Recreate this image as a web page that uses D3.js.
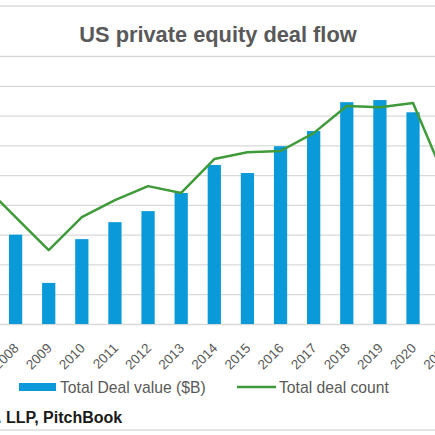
<!DOCTYPE html>
<html>
<head>
<meta charset="utf-8">
<script src="https://cdn.jsdelivr.net/npm/d3@7"></script>
<style>
  body { margin: 0; background: #fff; }
  svg { display: block; font-family: "Liberation Sans", Arial, sans-serif; }
</style>
</head>
<body>
<svg id="chart" width="435" height="435"></svg>
<script>
// Données (2007 et 2021 sont hors cadre, valeurs estimées)
const years = ["2007", "2008", "2009", "2010", "2011", "2012", "2013", "2014",
               "2015", "2016", "2017", "2018", "2019", "2020", "2021"];
const dealValue = [null, 300, 138, 285, 342, 379, 440, 534, 507, 597, 648, 745, 752, 711, null];
const dealCount = [4700, 3590, 2480, 3590, 4160, 4630, 4400, 5540, 5770, 5810, 6410, 7320, 7280, 7420, 4800];
const valueTicks = [0, 100, 200, 300, 400, 500, 600, 700, 800, 900];

const svg = d3.select("#chart");

// Échelles
const x = d3.scaleBand()
    .domain(years)
    .range([-34.1, 462.7])
    .paddingInner(0.6)
    .paddingOuter(0.3);

const y = d3.scaleLinear().domain([0, 900]).range([324, 56]);
const y2 = d3.scaleLinear().domain([0, 9000]).range([324, 56]);

// Lignes de séparation haut / bas
svg.append("line")
    .attr("x1", 0).attr("x2", 435).attr("y1", 6).attr("y2", 6)
    .attr("stroke", "#dcdcdc").attr("stroke-width", 1.5);
svg.append("line")
    .attr("x1", 0).attr("x2", 435).attr("y1", 430).attr("y2", 430)
    .attr("stroke", "#dcdcdc").attr("stroke-width", 1.5);

// Titre
svg.append("text")
    .attr("x", 218).attr("y", 42)
    .attr("text-anchor", "middle")
    .attr("font-size", "21.8px")
    .attr("font-weight", "bold")
    .attr("fill", "#595959")
    .text("US private equity deal flow");

// Quadrillage
const grid = svg.append("g")
    .call(d3.axisLeft(y).tickValues(valueTicks).tickSize(-470).tickFormat(""))
    .attr("transform", "translate(-10,0)");
grid.select(".domain").remove();
grid.selectAll(".tick line").attr("stroke", "#d9d9d9").attr("stroke-width", 1.3);

// Barres
svg.append("g").selectAll("rect")
    .data(years.map((d, i) => ({ year: d, value: dealValue[i] })).filter(d => d.value !== null))
    .enter()
    .append("rect")
    .attr("x", d => x(d.year))
    .attr("y", d => y(d.value))
    .attr("width", x.bandwidth())
    .attr("height", d => y(0) - y(d.value))
    .attr("fill", "#0a9ad9");

// Courbe du nombre de transactions
const line = d3.line()
    .x((d, i) => x(years[i]) + x.bandwidth() / 2)
    .y(d => y2(d));

svg.append("path")
    .datum(dealCount)
    .attr("d", line)
    .attr("fill", "none")
    .attr("stroke", "#3f9a3a")
    .attr("stroke-width", 2.5)
    .attr("stroke-linejoin", "round");

// Axe des années, étiquettes inclinées (2007 hors cadre, pas d'étiquette)
const xAxis = svg.append("g")
    .attr("transform", "translate(0,324)")
    .call(d3.axisBottom(x).tickSize(0).tickPadding(0)
        .tickFormat(d => d === "2007" ? "" : d));
xAxis.select(".domain").remove();
xAxis.selectAll("text")
    .attr("font-size", "13.5px")
    .attr("fill", "#595959")
    .attr("text-anchor", "end")
    .attr("dy", 0)
    .attr("transform", "translate(4,25) rotate(-45)");

// Légende
const legend = svg.append("g");
legend.append("rect")
    .attr("x", 19).attr("y", 383).attr("width", 37).attr("height", 8)
    .attr("fill", "#0a9ad9");
legend.append("text")
    .attr("x", 60).attr("y", 392.5)
    .attr("font-size", "15.7px").attr("fill", "#595959")
    .text("Total Deal value ($B)");
legend.append("line")
    .attr("x1", 237).attr("x2", 276).attr("y1", 387).attr("y2", 387)
    .attr("stroke", "#3f9a3a").attr("stroke-width", 2.5);
legend.append("text")
    .attr("x", 279).attr("y", 392.5)
    .attr("font-size", "15.7px").attr("fill", "#595959")
    .text("Total deal count");

// Source (coupée à gauche)
svg.append("text")
    .attr("x", -2.9).attr("y", 423)
    .attr("font-size", "16px").attr("font-weight", "bold")
    .attr("fill", "#1a1a1a")
    .text(". LLP, PitchBook");
</script>
</body>
</html>
